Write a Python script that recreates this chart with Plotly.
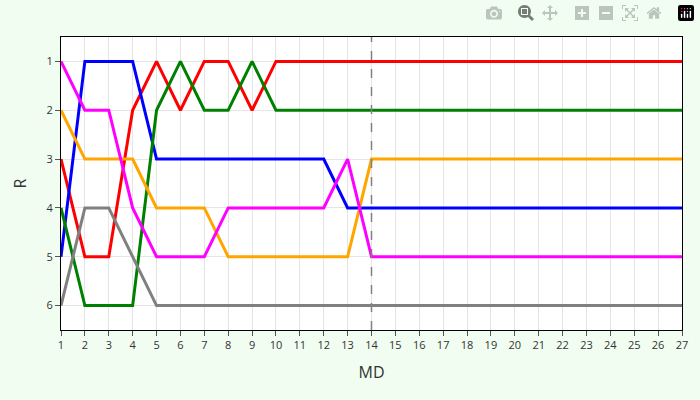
import plotly.graph_objects as go

md = list(range(1, 28))
red = [3,5,5,2,1,2,1,1,2,1] + [1]*17
blue = [5,1,1,1,3,3,3,3,3,3,3,3,4,4] + [4]*13
green = [4,6,6,6,2,1,2,2,1,2] + [2]*17
orange = [2,3,3,3,4,4,4,5,5,5,5,5,5,3] + [3]*13
magenta = [1,2,2,4,5,5,5,4,4,4,4,4,3,5] + [5]*13
gray = [6,4,4,5,6] + [6]*22

series = [("red", red), ("blue", blue), ("green", green), ("orange", orange), ("magenta", magenta), ("gray", gray)]

fig = go.Figure()
for c, v in series:
    fig.add_trace(go.Scatter(x=md, y=v, mode="lines", line=dict(color=c, width=3), showlegend=False))
fig.add_vline(x=14, line=dict(color="gray", width=1.5, dash="dash"))
ax = dict(showline=True, linecolor="black", linewidth=1, mirror=True, ticks="outside", ticklen=5,
          tickcolor="#555", gridcolor="#e5e5e5", zeroline=False, tickfont=dict(size=11, color="#333"))
fig.update_xaxes(**ax, range=[1, 27], tickvals=md, title=dict(text="MD", font=dict(size=16)))
fig.update_yaxes(**ax, range=[6.5, 0.5], tickvals=[1,2,3,4,5,6], title=dict(text="R", font=dict(size=16)))
fig.update_layout(width=700, height=400, margin=dict(l=61, r=15, t=37, b=70),
                  paper_bgcolor="#f0fdf0", plot_bgcolor="white", font=dict(family="Open Sans", color="#333"))
fig.write_html("out.html", post_script="document.body.style.margin='0';document.body.style.overflow='hidden';")
